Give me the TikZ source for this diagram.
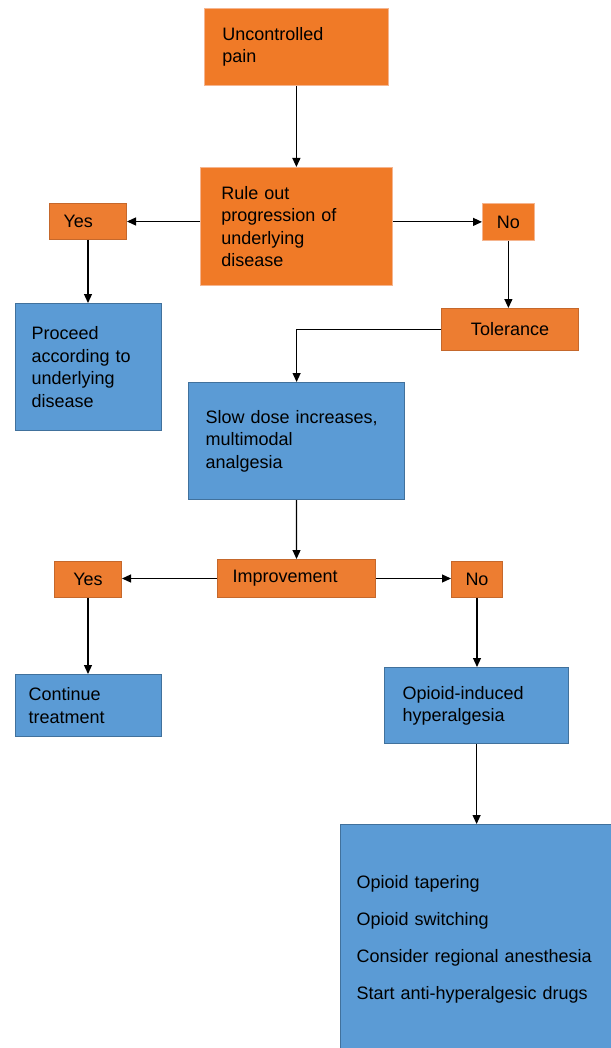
\documentclass[tikz,border=0pt]{standalone}
\usepackage{fontspec}
\setmainfont{Liberation Sans}
\usetikzlibrary{arrows.meta}
\definecolor{orA}{HTML}{F07A27}
\definecolor{orB}{HTML}{ED7D31}
\definecolor{orDark}{HTML}{C5682C}
\definecolor{orLight}{HTML}{F5B58F}
\definecolor{blFill}{HTML}{5B9BD5}
\definecolor{blDark}{HTML}{41719C}
\begin{document}
\begin{tikzpicture}[x=1pt,y=-1pt,
  box/.style={rectangle, anchor=north west, font=\fontsize{18}{22.5}\selectfont, align=left, inner ysep=0pt, text=black},
  obox/.style={box, fill=orA, draw=orLight, line width=0.8pt},
  odbox/.style={box, fill=orB, draw=orDark, line width=1pt},
  bbox/.style={box, fill=blFill, draw=blDark, line width=1.2pt},
  arr/.style={-{Triangle[length=9pt,width=8pt]}, line width=1.2pt, black}]
\useasboundingbox (0,0) rectangle (610,1048);

\node[obox, minimum width=184pt, minimum height=77pt, inner xsep=18pt, text width=148pt] (pain) at (204,8) {Uncontrolled\\pain};
\node[obox, minimum width=192pt, minimum height=118pt, inner xsep=21pt, text width=150pt] (rule) at (200,167) {Rule out\\progression of\\underlying\\disease};
\node[odbox, minimum width=77pt, minimum height=36pt, inner xsep=14pt, text width=49pt] (yes1) at (49,203) {Yes};
\node[obox, minimum width=52pt, minimum height=37pt, inner xsep=2pt, text width=48pt, align=center] (no1) at (482,203) {No};
\node[bbox, minimum width=146pt, minimum height=127pt, inner xsep=16pt, text width=114pt] (proc) at (15,303) {Proceed\\according to\\underlying\\disease};
\node[odbox, minimum width=137pt, minimum height=42pt, inner xsep=2pt, text width=133pt, align=center] (tol) at (441,308) {Tolerance};
\node[bbox, minimum width=216pt, minimum height=117pt, inner xsep=17pt, text width=182pt] (slow) at (188,382) {Slow dose increases,\\multimodal\\analgesia};
\node[odbox, minimum width=158pt, minimum height=38pt, inner xsep=15pt, text width=128pt] (impr) at (217,559) {Improvement};
\node[odbox, minimum width=67pt, minimum height=36pt, inner xsep=2pt, text width=63pt, align=center] (yes2) at (54,561) {Yes};
\node[odbox, minimum width=51pt, minimum height=36pt, inner xsep=2pt, text width=47pt, align=center] (no2) at (451,561) {No};
\node[bbox, minimum width=146pt, minimum height=62pt, inner xsep=13pt, text width=120pt] (cont) at (15,674) {Continue\\treatment};
\node[bbox, minimum width=184pt, minimum height=76pt, inner xsep=18pt, text width=148pt] (oih) at (384,667) {Opioid-induced\\hyperalgesia};
\node[bbox, minimum width=275pt, minimum height=230pt, inner xsep=16pt, text width=243pt] (big) at (340,824) {Opioid tapering\\[14.5pt]Opioid switching\\[14.5pt]Consider regional anesthesia\\[14.5pt]Start anti-hyperalgesic drugs};

\draw[arr] (pain) -- (rule);
\draw[arr] (rule.west |- yes1.east) -- (yes1.east);
\draw[arr] (rule.east |- no1.west) -- (no1.west);
\draw[arr] (yes1.south) -- (yes1.south |- proc.north);
\draw[arr] (no1.south) -- (no1.south |- tol.north);
\draw[arr] (tol.west) -| (slow.north);
\draw[arr] (slow) -- (impr);
\draw[arr] (impr.west) -- (impr.west -| yes2.east);
\draw[arr] (impr.east) -- (impr.east -| no2.west);
\draw[arr] (yes2.south) -- (yes2.south |- cont.north);
\draw[arr] (no2.south) -- (no2.south |- oih.north);
\draw[arr] (oih.south) -- (oih.south |- big.north);
\end{tikzpicture}
\end{document}
